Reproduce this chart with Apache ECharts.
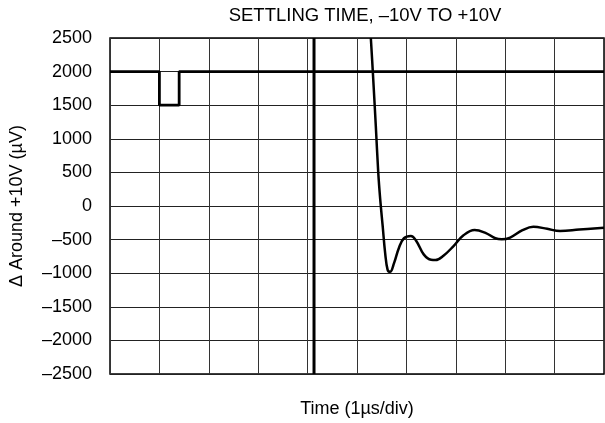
<!DOCTYPE html>
<html><head><meta charset="utf-8">
<script src="https://cdn.jsdelivr.net/npm/echarts@6/dist/echarts.min.js"></script>
<style>html,body{margin:0;padding:0;background:#fff}#c{width:605px;height:423px}</style>
</head><body><div id="c"></div>
<script>
var yTicks = [-2500,-2000,-1500,-1000,-500,0,500,1000,1500,2000,2500];
var refLine = [[0,2000],[1.0,2000],[1.0,1500],[1.4,1500],[1.4,2000],[10,2000]];
var triggerLine = [[4.13,-2500],[4.13,2500]];
var settleX = [5.28,5.32,5.38,5.43,5.47,5.52,5.57,5.62,5.67,5.75,5.85,5.95,6.09,6.2,6.35,6.5,6.59,6.75,6.95,7.15,7.38,7.6,7.8,7.93,8.1,8.35,8.57,8.85,9.11,9.5,10];
var settleY = [2500,2000,1200,500,100,-300,-700,-950,-980,-850,-620,-480,-446,-520,-720,-800,-804,-740,-600,-440,-357,-400,-480,-496,-470,-360,-308,-340,-372,-350,-323];
var settle = settleX.map(function(x,i){return [x,settleY[i]];});
var chart = echarts.init(document.getElementById('c'));
var font = 'Liberation Sans, Arial, sans-serif';
var fs = 18;
chart.setOption({
  animation:false,
  title:{text:'SETTLING TIME, \u201310V TO +10V', left:360, top:1, textAlign:'center',
    textStyle:{fontFamily:font,fontSize:18.5,fontWeight:'normal',color:'#000'}},
  grid:{left:110,right:1,top:38,bottom:49,show:true,borderColor:'#000',borderWidth:1.5,
    containLabel:false,outerBoundsMode:'none'},
  xAxis:{type:'value',min:0,max:10,interval:1,
    name:'Time (1\u00b5s/div)',nameLocation:'middle',nameGap:26,
    nameTextStyle:{fontFamily:font,fontSize:fs,color:'#000'},
    axisLabel:{show:false},axisTick:{show:false},axisLine:{show:false},
    splitLine:{show:true,lineStyle:{color:'#333',width:1}}},
  yAxis:{type:'value',min:-2500,max:2500,interval:500,
    name:'\u0394 Around +10V (\u00b5V)',nameLocation:'middle',nameGap:84,nameRotate:90,
    nameTextStyle:{fontFamily:font,fontSize:fs,color:'#000'},
    axisLabel:{margin:18,fontFamily:font,fontSize:fs,color:'#000',
      formatter:function(v){return v<0?'\u2013'+Math.abs(v):String(v);}},
    axisTick:{show:false},axisLine:{show:false},
    splitLine:{show:true,lineStyle:{color:'#222',width:1}}},
  series:[
    {type:'line',data:refLine,symbol:'none',lineStyle:{color:'#000',width:2.8}},
    {type:'line',data:triggerLine,symbol:'none',lineStyle:{color:'#000',width:3}},
    {type:'line',data:settle,symbol:'none',smooth:0.4,lineStyle:{color:'#000',width:2.5}}
  ]
});
</script></body></html>
